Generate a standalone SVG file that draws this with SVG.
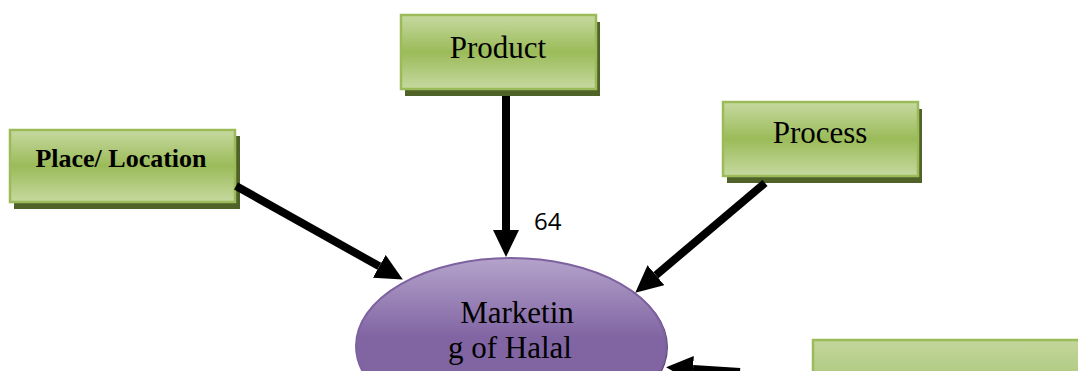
<svg xmlns="http://www.w3.org/2000/svg" width="1078" height="371" viewBox="0 0 1078 371">
<style>
.box{stroke:#9BBB59;stroke-width:2.5;fill:url(#gGreen)}
.shadow{fill:#4F6228}
.lbl{font-family:"Liberation Serif","Times New Roman",serif;font-size:31px;fill:#000;text-anchor:middle}
.bold{font-weight:bold;font-size:26px}
.conn{stroke:#000;stroke-width:8;fill:none;marker-end:url(#arrow)}
</style>
<defs>
<linearGradient id="gGreen" x1="0" y1="0" x2="0" y2="1">
<stop offset="0" stop-color="#C6D9A0"/>
<stop offset="0.5" stop-color="#9BBB59"/>
<stop offset="1" stop-color="#C6D9A0"/>
</linearGradient>
<linearGradient id="gGreen2" x1="0" y1="0" x2="0" y2="1">
<stop offset="0" stop-color="#C3D69B"/>
<stop offset="1" stop-color="#ADC97E"/>
</linearGradient>
<linearGradient id="gPurple" x1="0" y1="0" x2="0" y2="1">
<stop offset="0" stop-color="#B4A3CB"/>
<stop offset="0.45" stop-color="#8165A3"/>
<stop offset="1" stop-color="#8064A2"/>
</linearGradient>
<marker id="arrow" markerUnits="userSpaceOnUse" markerWidth="28" markerHeight="26" refX="0" refY="13" orient="auto">
<path d="M0,0 L27,13 L0,26 z" fill="#000"/>
</marker>
</defs>

<g id="node-place">
<rect class="shadow" x="14" y="136" width="226" height="73"/>
<rect class="box" x="10" y="130" width="225" height="72"/>
<text class="lbl bold" x="121" y="167">Place/ Location</text>
</g>

<g id="node-product">
<rect class="shadow" x="405" y="22" width="195" height="74"/>
<rect class="box" x="401" y="15" width="195" height="74"/>
<text class="lbl" x="498" y="58">Product</text>
</g>

<g id="node-process">
<rect class="shadow" x="727" y="109" width="195" height="74"/>
<rect class="box" x="723" y="102" width="195" height="74"/>
<text class="lbl" x="820" y="143">Process</text>
</g>

<g id="node-marketing">
<ellipse cx="513" cy="347" rx="155" ry="88" fill="#5F497A"/>
<ellipse cx="511" cy="346" rx="155" ry="88" fill="url(#gPurple)" stroke="#7E62A0" stroke-width="2"/>
<text class="lbl" x="517" y="323">Marketin</text>
<text class="lbl" x="510" y="358">g of Halal</text>
</g>

<g id="node-bottom-right">
<rect x="813" y="340" width="270" height="40" fill="url(#gGreen2)" stroke="#9BBB59" stroke-width="2.5"/>
</g>

<g id="connectors">
<line class="conn" x1="236" y1="186" x2="379.3" y2="266.3"/>
<line class="conn" x1="506" y1="96" x2="506" y2="230"/>
<line class="conn" x1="765" y1="183" x2="655.9" y2="275.2"/>
<line class="conn" x1="740" y1="372" x2="693" y2="369"/>
<text x="534" y="230" font-family="'Open Sans','Liberation Sans',sans-serif" font-size="24" fill="#000">64</text>
</g>
</svg>
